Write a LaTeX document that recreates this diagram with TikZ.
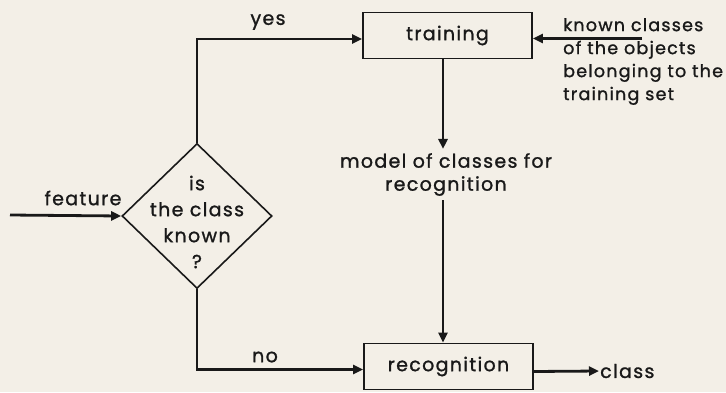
\documentclass[tikz,border=0pt]{standalone}
\usepackage{fontspec}
\setmainfont{Poppins}[LetterSpace=7,FakeBold=1.2]
\usetikzlibrary{arrows.meta,shapes.geometric}
\definecolor{paper}{RGB}{243,239,231}
\definecolor{ink}{RGB}{25,25,25}
\newcommand\dfsz{\fontsize{19}{23}\selectfont}
\newcommand\dfszd{\fontsize{19}{26}\selectfont}
\newcommand\dfszk{\fontsize{17.5}{23}\selectfont}
\begin{document}
\begin{tikzpicture}[x=1pt,y=-1pt,
  box/.style={draw=ink, line width=1.8pt, minimum width=169pt, minimum height=46pt, inner sep=0pt, font=\dfsz, text=ink},
  txt/.style={font=\dfsz, text=ink, inner sep=1pt},
  conn/.style={draw=ink, line width=2.8pt},
  arr/.style={conn, -{Triangle[length=10pt,width=9pt]}}
]
\fill[paper] (0,0) rectangle (726,392);
\useasboundingbox (0,0) rectangle (726,392);

\node[box] (train) at (447.5,35.5) {training};
\node[box] (recog) at (448.5,366.5) {recognition};
\node[diamond, draw=ink, line width=1.6pt, minimum width=150pt, minimum height=145pt, inner sep=0pt] (dec) at (197,216) {};
\node[txt, font=\dfszd, align=center] (dectext) at (197,222) {is\\the class\\known\\?};

\node[txt] (feat) at (83,198) {feature};
\node[txt] (yes) at (268,22) {yes};
\node[txt] (no) at (265,357) {no};
\node[txt, anchor=west] (cls) at (599,371) {class};
\node[txt, font=\dfszk, align=left, anchor=west] (known) at (562,61.5) {known classes\\of the objects\\belonging to the\\training set};
\node[txt, align=center, inner sep=4pt] (model) at (446,174.5) {model of classes for\\recognition};

\coordinate (fin) at (10,215);
\coordinate (kin) at (642,38.5);
\coordinate (vx) at (443,0);

\draw[arr] (fin) -- (dec.west);
\draw[arr] (dec.north) |- ([yshift=-3.5pt]train.west);
\draw[arr] (dec.south) |- ([yshift=-3pt]recog.west);
\draw[arr] ([yshift=-5pt]recog.east) -- (cls.west);
\draw[arr] (kin) -- ([yshift=-3pt]train.east);
\draw[arr] (train.south -| vx) -- (model.north -| vx);
\draw[arr] (model.south -| vx) -- (recog.north -| vx);
\end{tikzpicture}
\end{document}
